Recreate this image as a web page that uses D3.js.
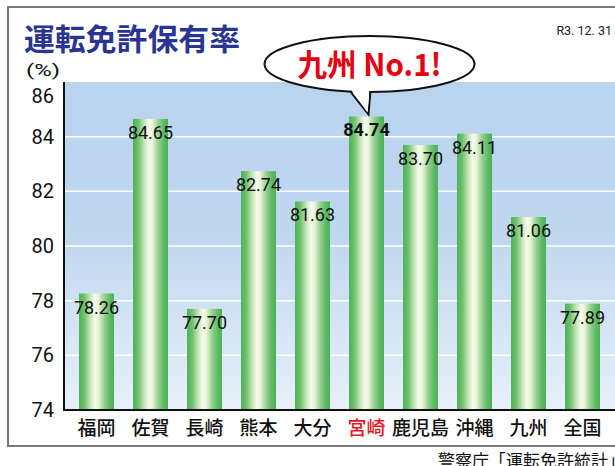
<!DOCTYPE html>
<html><head><meta charset="utf-8">
<script src="https://cdn.jsdelivr.net/npm/d3@7"></script>
<style>body{margin:0;background:#fff;overflow:hidden}svg{display:block}</style>
</head><body>
<svg id="c" width="615" height="466"></svg>
<script>
const categories = ["福岡","佐賀","長崎","熊本","大分","宮崎","鹿児島","沖縄","九州","全国"];
const values = [78.26, 84.65, 77.70, 82.74, 81.63, 84.74, 83.70, 84.11, 81.06, 77.89];
const yTicks = [74, 76, 78, 80, 82, 84, 86];
const highlight = "宮崎";

(function(){
const svg = d3.select("#c");
const FONT = "'Noto Sans CJK JP','Noto Sans',sans-serif";
const NUMFONT = "Roboto,'Liberation Sans',sans-serif";

const defs = svg.append("defs");
const bg = defs.append("linearGradient").attr("id","bg").attr("x1",0).attr("y1",0).attr("x2",0).attr("y2",1);
bg.append("stop").attr("offset","0%").attr("stop-color","#bad4ee");
bg.append("stop").attr("offset","45%").attr("stop-color","#bfd6ef");
bg.append("stop").attr("offset","100%").attr("stop-color","#e8f0fa");
const bar = defs.append("linearGradient").attr("id","bar").attr("x1",0).attr("y1",0).attr("x2",1).attr("y2",0);
[[0,"#4bb358"],[0.15,"#6fc06e"],[0.32,"#c6e5b8"],[0.45,"#f7fbec"],[0.55,"#e9f5d8"],[0.72,"#96d191"],[0.88,"#5fba64"],[1,"#4ab258"]]
  .forEach(([o,c])=>bar.append("stop").attr("offset",o).attr("stop-color",c));

// outer frame
svg.append("rect").attr("x",8).attr("y",7).attr("width",640).attr("height",439)
  .attr("fill","#fff").attr("stroke","#7a7a7a").attr("stroke-width",2);

const pl = 64, pt = 82, pb = 410, pr = 615;
const y = d3.scaleLinear().domain([74,86]).range([pb, pt]);
const x = d3.scaleBand().domain(categories).range([60, 619]).padding(0.352);

svg.append("rect").attr("x",pl).attr("y",pt).attr("width",pr-pl).attr("height",pb-pt).attr("fill","url(#bg)");

// gridlines
svg.append("g").selectAll("line").data(yTicks.filter(t=>t>74 && t<86)).join("line")
  .attr("x1",pl).attr("x2",pr).attr("y1",d=>y(d)).attr("y2",d=>y(d))
  .attr("stroke","#fff").attr("stroke-width",1.5);

// bars
svg.append("g").selectAll("rect").data(categories).join("rect")
  .attr("x",d=>x(d)).attr("width",x.bandwidth())
  .attr("y",(d,i)=>y(values[i])).attr("height",(d,i)=>pb-y(values[i]))
  .attr("fill","url(#bar)");

// value labels
svg.append("g").selectAll("text").data(categories).join("text")
  .attr("x",d=>x(d)+x.bandwidth()/2).attr("y",(d,i)=>y(values[i])+20)
  .attr("text-anchor","middle").attr("font-family",NUMFONT).attr("font-size",18)
  .attr("font-weight",d=>d===highlight?"bold":"normal")
  .attr("fill","#111").text((d,i)=>values[i].toFixed(2));

// y axis
const ya = d3.axisLeft(y).tickValues(yTicks).tickSize(0).tickPadding(10).tickFormat(d3.format("d"));
const yg = svg.append("g").attr("transform",`translate(${pl},0)`).call(ya);
yg.select(".domain").remove();
yg.selectAll("text").attr("font-family",NUMFONT).attr("font-size",20).attr("fill","#111")
  .attr("dy",d=>d===86?"1.0em":"0.32em");

// x axis
const xa = d3.axisBottom(x).tickSize(0).tickPadding(12);
const xg = svg.append("g").attr("transform",`translate(0,${pb})`).call(xa);
xg.select(".domain").remove();
xg.selectAll("text").attr("font-family",FONT).attr("font-size",19).attr("font-weight",500)
  .attr("fill",d=>d===highlight?"#e8141e":"#111");

// axis lines
svg.append("line").attr("x1",pl).attr("x2",pl).attr("y1",pt).attr("y2",pb+1).attr("stroke","#111").attr("stroke-width",2);
svg.append("line").attr("x1",pl-1).attr("x2",pr).attr("y1",pb).attr("y2",pb).attr("stroke","#111").attr("stroke-width",2);

// title
svg.append("text").attr("x",24).attr("y",50).attr("font-family",FONT).attr("font-size",30).attr("font-weight",700)
  .attr("fill","#2a3592").attr("textLength",216).attr("lengthAdjust","spacingAndGlyphs").text("運転免許保有率");
svg.append("text").attr("x",26).attr("y",76).attr("font-family",NUMFONT).attr("font-size",17)
  .attr("fill","#111").attr("textLength",34).attr("lengthAdjust","spacingAndGlyphs").text("(%)");
svg.append("text").attr("x",612).attr("y",35).attr("text-anchor","end").attr("font-family",NUMFONT).attr("font-size",12.5)
  .attr("fill","#222").text("R3. 12. 31");

// balloon
const hx = x(highlight)+x.bandwidth()/2, hy = y(values[categories.indexOf(highlight)]);
const cx = 369.5, cy = 64, rx = 105, ry = 28;
const g = svg.append("g");
g.append("path").attr("d",`M${cx-22},${cy+ry-4} L${hx+2},${hy-2} L${cx+1},${cy+ry-2} Z`)
  .attr("fill","#fff").attr("stroke","#111").attr("stroke-width",2).attr("stroke-linejoin","miter");
g.append("ellipse").attr("cx",cx).attr("cy",cy).attr("rx",rx).attr("ry",ry)
  .attr("fill","#fff").attr("stroke","#111").attr("stroke-width",2);
g.append("path").attr("d",`M${cx-21},${cy+ry-6} L${hx+1},${hy-4} L${cx},${cy+ry-5} Z`).attr("fill","#fff");
g.append("text").attr("x",cx).attr("y",cy+12).attr("text-anchor","middle").attr("font-family",FONT)
  .attr("font-size",31).attr("font-weight",700).attr("fill","#e60012")
  .attr("textLength",144).attr("lengthAdjust","spacingAndGlyphs").text("九州 No.1!");

// source
svg.append("text").attr("x",438).attr("y",467).attr("font-family",FONT).attr("font-size",17)
  .attr("fill","#111").text("警察庁「運転免許統計」");
})();
</script>
</body></html>
